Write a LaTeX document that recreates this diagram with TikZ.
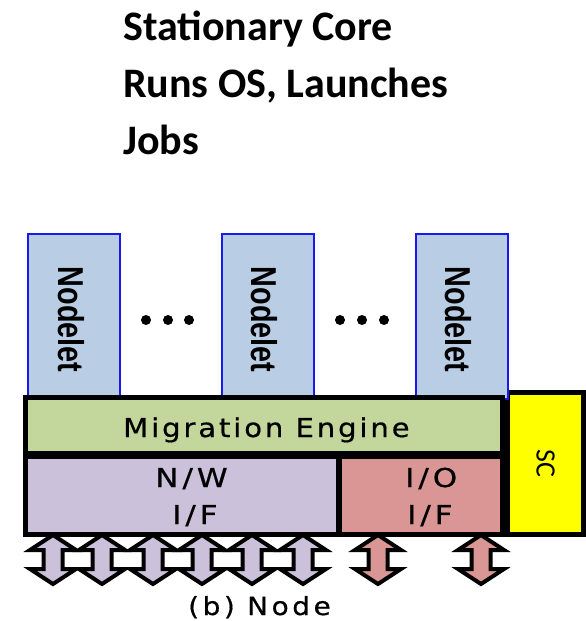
\documentclass[tikz,border=0pt]{standalone}
\usepackage{fontspec}
\usepackage{graphicx}
\newfontfamily\titlefont{Carlito}
\newfontfamily\scfont{Carlito}
\newfontfamily\nodeletfont{Liberation Sans}
\newfontfamily\labelfont{DejaVu Sans}[FakeStretch=1.12, LetterSpace=11, FakeBold=0.6]
\newfontfamily\captfont{DejaVu Sans}[FakeStretch=1.12, LetterSpace=14, FakeBold=0.6]
\newfontfamily\unitfont{DejaVu Sans}[FakeStretch=1.2, LetterSpace=15, FakeBold=0.6]

\definecolor{nodeletblue}{HTML}{B9CDE5}
\definecolor{nodeletedge}{HTML}{1A1AF0}
\definecolor{megreen}{HTML}{C3D69B}
\definecolor{nwpurple}{HTML}{CCC1DA}
\definecolor{iopink}{HTML}{D99694}
\definecolor{scyellow}{HTML}{FFFF00}

\tikzset{
  nodeletbox/.style={draw=nodeletedge, line width=2pt, fill=nodeletblue,
    minimum width=92pt, minimum height=165pt, inner sep=0pt},
  unitbox/.style={fill=#1, inner sep=0pt},
  nodelettext/.style={rotate=-90, inner sep=0pt,
    font=\nodeletfont\bfseries\fontsize{36pt}{36pt}\selectfont},
  boxlabel/.style={inner sep=0pt, anchor=base west},
  titleline/.style={boxlabel, font=\titlefont\bfseries\fontsize{42pt}{42pt}\selectfont},
  unitlabel/.style={boxlabel, font=\unitfont\fontsize{26pt}{26pt}\selectfont},
  dot/.style={circle, fill=black, inner sep=0pt, minimum size=10pt},
  linkarrow/.style={draw=black, line width=4pt, line join=miter, fill=#1}
}

% double-headed link arrow hanging below the interface boxes
\newcommand\linkarrowat[2]{%
  \draw[linkarrow=#2] (#1,535) -- ++(23,15) -- ++(-13.5,0) -- ++(0,19)
    -- ++(13.5,0) -- ++(-23,15) -- ++(-23,-15) -- ++(13.5,0) -- ++(0,-19)
    -- ++(-13.5,0) -- cycle;}

\begin{document}
\begin{tikzpicture}[x=1pt, y=-1pt]
\useasboundingbox (0,0) rectangle (586,621);

% heading
\node[titleline] (title1) at (123,40) {Stationary Core};
\node[titleline] (title2) at (123,97) {Runs OS, Launches};
\node[titleline] (title3) at (123,154) {Jobs};

% stationary core
\node[draw=black, line width=5pt, fill=scyellow, inner sep=0pt,
  minimum width=76pt, minimum height=142pt] (sc) at (545.5,463.5) {};
\node[rotate=-90, inner sep=0pt, font=\scfont\fontsize{28pt}{28pt}\selectfont]
  (sctext) at (sc.center) {SC};

% nodelets
\foreach \i/\cx in {1/74, 2/267.5, 3/461.5}{
  \node[nodeletbox] (nodelet\i) at (\cx,316.5) {};
  \node[nodelettext] (nodelettext\i) at ([xshift=-3pt, yshift=-3pt]nodelet\i.center)
    {\scalebox{0.8}[1]{Nodelet}};
}

% ellipses between nodelets
\foreach \cx [count=\k] in {146,168,189,340,362,384}{
  \node[dot] (dot\k) at (\cx,320) {};
}

% migration engine and interfaces
\node[unitbox=megreen, minimum width=477pt, minimum height=57pt]
  (engine) at (264,426) {};
\node[unitbox=nwpurple, minimum width=313pt, minimum height=80pt]
  (nwif) at (182,494.5) {};
\node[unitbox=iopink, minimum width=164pt, minimum height=80pt]
  (ioif) at (420.5,494.5) {};

\draw[line width=8pt] (engine.south west) -- (engine.south east);
\draw[line width=6pt] (nwif.north east) -- (nwif.south east);
\draw[line width=5pt] (engine.north west) rectangle (ioif.south east);

\node[boxlabel, font=\labelfont\fontsize{26pt}{26pt}\selectfont]
  (enginetext) at (123,437) {Migration Engine};
\node[unitlabel] (nwtext) at (155,487) {N/W};
\node[unitlabel] (nwiftext) at (172,524) {I/F};
\node[unitlabel] (iotext) at (405,487) {I/O};
\node[unitlabel] (ioiftext) at (407,524) {I/F};

% links
\foreach \cx in {53,102,153,202,252,303}{
  \linkarrowat{\cx}{nwpurple}
}
\foreach \cx in {378,481}{
  \linkarrowat{\cx}{iopink}
}

\node[boxlabel, font=\captfont\fontsize{25pt}{25pt}\selectfont]
  (caption) at (188,615) {(b) Node};
\end{tikzpicture}
\end{document}
